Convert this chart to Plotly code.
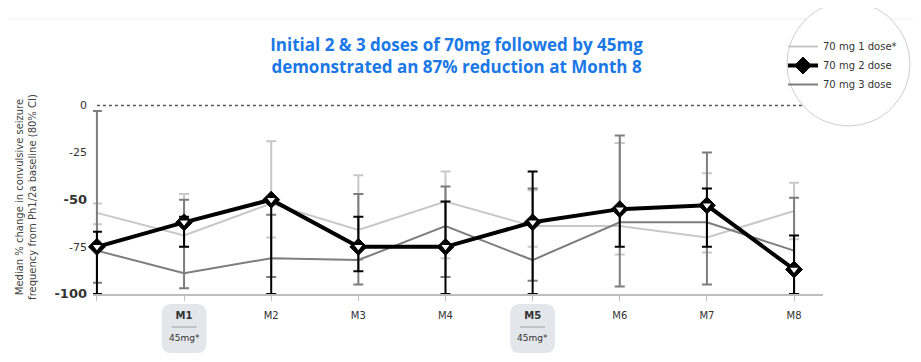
import plotly.graph_objects as go

# ---------------- data ----------------
months = [0, 1, 2, 3, 4, 5, 6, 7, 8]
month_labels = ["", "<b>M1</b>", "M2", "M3", "M4", "<b>M5</b>", "M6", "M7", "M8"]
dose_note_months = [1, 5]
dose_note_text = "45mg*"

series_names = ["70 mg 1 dose*", "70 mg 2 dose", "70 mg 3 dose"]

dose1_median = [-57, -69, -52, -66, -51, -64, -64, -70, -56]
dose1_upper = [-52, -47, -19, -37, -35, -45, -20, -36, -41]
dose1_lower = [-63, -75, -70, -82, -81, -75, -79, -78, -71]

dose2_median = [-75, -62, -50, -75, -75, -62, -55, -53, -87]
dose2_upper = [-67, -59, -50, -59, -51, -35, -55, -44, -69]
dose2_lower = [-100, -75, -100, -88, -100, -100, -75, -75, -100]

dose3_median = [-77, -89, -81, -82, -64, -82, -62, -62, -77]
dose3_upper = [-3, -50, -58, -47, -43, -44, -16, -25, -49]
dose3_lower = [-94, -97, -91, -95, -91, -93, -96, -95, -100]

y_ticks = [0, -25, -50, -75, -100]
y_bold_ticks = [-50, -100]

title_text = ("Initial 2 &amp; 3 doses of 70mg followed by 45mg<br>"
              "demonstrated an 87% reduction at Month 8")
y_title = "Median % change in convulsive seizure<br>frequency from Ph1/2a baseline (80% CI)"

# ---------------- styles ----------------
LIGHT = "#c8c8c8"
DARK = "#7d7d7d"
BLACK = "#000000"
FONT = "DejaVu Sans"
TXT = "#333333"

# page offset of the plot div (default body margin)
OFF = 8


def err(median, upper, lower):
    return dict(type="data", symmetric=False,
                array=[u - m for u, m in zip(upper, median)],
                arrayminus=[m - l for m, l in zip(median, lower)])


fig = go.Figure()

fig.add_trace(go.Scatter(
    x=months, y=dose1_median, name=series_names[0], mode="lines",
    line=dict(color=LIGHT, width=2), cliponaxis=False, legendrank=1,
    error_y=dict(**err(dose1_median, dose1_upper, dose1_lower),
                 color=LIGHT, thickness=2, width=5)))

fig.add_trace(go.Scatter(
    x=months, y=dose3_median, name=series_names[2], mode="lines",
    line=dict(color=DARK, width=2), cliponaxis=False, legendrank=3,
    error_y=dict(**err(dose3_median, dose3_upper, dose3_lower),
                 color=DARK, thickness=2, width=5)))

fig.add_trace(go.Scatter(
    x=months, y=dose2_median, name=series_names[1], mode="lines+markers",
    line=dict(color=BLACK, width=4), cliponaxis=False, legendrank=2,
    marker=dict(symbol="diamond", size=13, color=BLACK,
                line=dict(color=BLACK, width=1)),
    error_y=dict(**err(dose2_median, dose2_upper, dose2_lower),
                 color=BLACK, thickness=2, width=5)))

fig.add_trace(go.Scatter(
    x=months, y=dose2_median, mode="markers", showlegend=False,
    hoverinfo="skip", cliponaxis=False,
    marker=dict(symbol="triangle-down", size=7, color="white",
                line=dict(width=0))))

# figure geometry (figure pixels)
W, H = 921 - OFF, 362 - OFF
L, R, T, B = 93 - OFF, 921 - 823, 100 - OFF, H - (294 - OFF)
pw, ph = W - L - R, H - T - B


def px_x(p):  # reference page pixel -> paper x
    return (p - OFF - L) / pw


def px_y(p):  # reference page pixel -> paper y
    return (H - B - (p - OFF)) / ph


xr = [-0.045, 8.332]
mx = (xr[1] - xr[0]) / pw  # data units per pixel (x)

shapes = []
# top faint rule
shapes.append(dict(type="line", xref="paper", yref="paper",
                   x0=px_x(9), x1=px_x(921), y0=px_y(19), y1=px_y(19),
                   line=dict(color="#f0f0f0", width=1), layer="below"))
# zero reference dotted line
shapes.append(dict(type="line", xref="x", yref="y", x0=0, x1=xr[1], y0=0, y1=0,
                   line=dict(color="#555555", width=1.5, dash="dot"), layer="below"))
# legend circle
shapes.append(dict(type="circle", xref="paper", yref="paper",
                   x0=px_x(787), x1=px_x(910), y0=px_y(126), y1=px_y(2),
                   line=dict(color="#c9cdd3", width=1), fillcolor="white", layer="above"))

# rounded boxes behind M1 / M5
for m in dose_note_months:
    hw = 22.5 * mx
    rx = 10 * mx
    y0, y1 = px_y(353), px_y(304)
    ry = 10 / ph
    xa, xb = m - hw, m + hw
    path = (f"M {xa + rx},{y1} L {xb - rx},{y1} Q {xb},{y1} {xb},{y1 - ry} "
            f"L {xb},{y0 + ry} Q {xb},{y0} {xb - rx},{y0} "
            f"L {xa + rx},{y0} Q {xa},{y0} {xa},{y0 + ry} "
            f"L {xa},{y1 - ry} Q {xa},{y1} {xa + rx},{y1} Z")
    shapes.append(dict(type="path", xref="x", yref="paper", path=path,
                       fillcolor="#e3e6ea", line=dict(width=0), layer="below"))
    shapes.append(dict(type="line", xref="x", yref="paper",
                       x0=m - 12.5 * mx, x1=m + 12.5 * mx, y0=px_y(327), y1=px_y(327),
                       line=dict(color="#a0a0a0", width=1)))

annotations = []
for m in dose_note_months:
    annotations.append(dict(x=m, y=px_y(338), xref="x", yref="paper",
                            text=dose_note_text, showarrow=False,
                            font=dict(family=FONT, size=9, color=TXT),
                            xanchor="center", yanchor="middle"))

y_ticktext = []
for v in y_ticks:
    if v in y_bold_ticks:
        y_ticktext.append(f"<b><span style='font-size:13px'>{v}</span></b>")
    else:
        y_ticktext.append(str(v))

fig.update_layout(
    width=W, height=H,
    margin=dict(l=L, r=R, t=T, b=B, autoexpand=False),
    paper_bgcolor="white", plot_bgcolor="white",
    font=dict(family=FONT, color=TXT),
    title=dict(text=title_text, x=(456.5 - OFF) / W, xanchor="center",
               y=1 - (51 - OFF) / H, yanchor="middle", yref="container",
               font=dict(family="Open Sans", size=17, color="#1a78e6",
                         weight="bold")),
    xaxis=dict(range=xr, tickvals=months, ticktext=month_labels,
               showgrid=False, zeroline=False, showline=True,
               linecolor="#bdbdbd", linewidth=2,
               ticks="outside", ticklen=5, tickcolor="#bdbdbd", tickwidth=1,
               tickfont=dict(family=FONT, size=10, color=TXT),
               ticklabelstandoff=6, fixedrange=True),
    yaxis=dict(range=[-100, 2.86], tickvals=y_ticks, ticktext=y_ticktext,
               showgrid=False, zeroline=False, showline=False, ticks="",
               tickfont=dict(family=FONT, size=11, color=TXT),
               ticklabelstandoff=5,
               title=dict(text=y_title, standoff=15,
                          font=dict(family=FONT, size=10, color="#444444"))),
    legend=dict(x=px_x(783), y=px_y(32), xanchor="left", yanchor="top",
                bgcolor="rgba(0,0,0,0)", borderwidth=0,
                font=dict(family=FONT, size=10, color=TXT),
                traceorder="normal"),
    shapes=shapes, annotations=annotations,
    showlegend=True,
)

fig.write_html("out.html")
